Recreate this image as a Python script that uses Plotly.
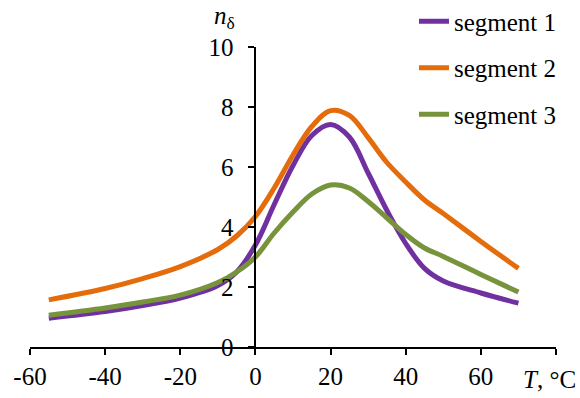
import plotly.graph_objects as go

T = [-55, -40, -30, -20, -10, -5, 0, 5, 10, 15, 20, 25, 30, 35, 40, 45, 50, 60, 70]
seg1 = [0.96, 1.18, 1.38, 1.63, 2.05, 2.5, 3.4, 4.75, 6.05, 7.05, 7.42, 7.0, 5.8, 4.55, 3.45, 2.62, 2.2, 1.8, 1.46]
seg2 = [1.57, 1.95, 2.28, 2.68, 3.25, 3.7, 4.35, 5.3, 6.4, 7.35, 7.88, 7.72, 6.98, 6.15, 5.5, 4.9, 4.45, 3.52, 2.62]
seg3 = [1.06, 1.3, 1.5, 1.73, 2.15, 2.5, 3.0, 3.8, 4.5, 5.1, 5.4, 5.3, 4.85, 4.3, 3.75, 3.3, 3.02, 2.42, 1.83]

names = ["segment 1", "segment 2", "segment 3"]
colors = ["#7030A0", "#E46C0A", "#77933C"]

x_tickvals = [-60, -40, -20, 0, 20, 40, 60, 80]
x_ticktext = ["-60", "-40", "-20", "0", "20", "40", "60", ""]
y_tickvals = [0, 2, 4, 6, 8, 10]

FONT = "Liberation Serif, Times New Roman, serif"
FS = 25
fig = go.Figure()
for ys, n, c in zip([seg1, seg2, seg3], names, colors):
    fig.add_trace(go.Scatter(x=T, y=ys, name=n, mode="lines", legendgroup=n,
                             line=dict(color=c, width=5, shape="spline", smoothing=1.0)))

fig.update_layout(
    width=580, height=398,
    margin=dict(l=30, r=24, t=47, b=51, autoexpand=False),
    paper_bgcolor="white", plot_bgcolor="white",
    font=dict(family=FONT, size=FS, color="black"),
    showlegend=True,
    legend=dict(x=0.73, y=1.162, xanchor="left", yanchor="top", bgcolor="rgba(0,0,0,0)",
                font=dict(family=FONT, size=FS), tracegroupgap=11),
    xaxis=dict(range=[-60, 80], tickvals=x_tickvals, ticktext=x_ticktext,
               showgrid=False, zeroline=False, showline=True, linecolor="black", linewidth=2,
               ticks="outside", ticklen=6, tickwidth=2, tickcolor="black",
               ticklabelstandoff=0, ticklabeloverflow="allow"),
    yaxis=dict(range=[0, 10], tickvals=y_tickvals, anchor="free", position=60/140,
               showgrid=False, zeroline=False, showline=True, linecolor="black", linewidth=2,
               ticks="outside", ticklen=6, tickwidth=2, tickcolor="black",
               ticklabelstandoff=10),
    annotations=[
        dict(text="<i>n</i><sub>δ</sub>", xref="paper", yref="paper",
             x=(224 - 30) / 526, y=(347 - 18) / 300, showarrow=False,
             xanchor="center", yanchor="middle",
             font=dict(family=FONT, size=FS)),
        dict(text="<i>T</i>, °C", xref="paper", yref="paper",
             x=(549.5 - 30) / 526, y=(347 - 379) / 300, showarrow=False,
             xanchor="center", yanchor="middle", font=dict(family=FONT, size=FS)),
    ],
)
fig.write_html("out.html")
